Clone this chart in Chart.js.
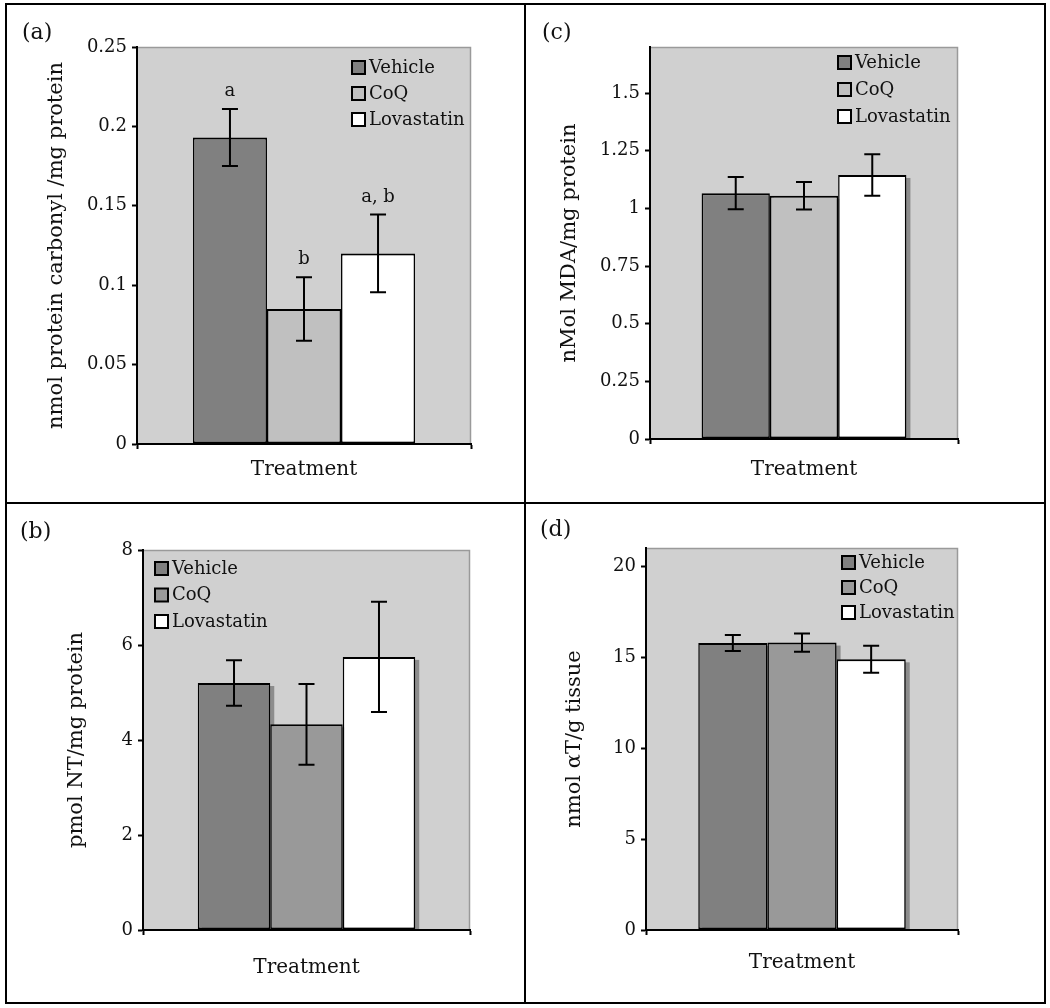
<!DOCTYPE html>
<html>
<head>
<meta charset="utf-8">
<script src="https://cdn.jsdelivr.net/npm/chart.js@4.4.0/dist/chart.umd.min.js"></script>
<style>
  body { margin: 0; background: #fff; width: 1050px; height: 1008px; position: relative; overflow: hidden; }
  canvas { position: absolute; }
  .frame { position: absolute; left: 5px; top: 3px; width: 1041px; height: 1001px; border: 2px solid #000; box-sizing: border-box; z-index: 2; }
  .vline { position: absolute; left: 524px; top: 3px; width: 2px; height: 1001px; background: #000; z-index: 2; }
  .hline { position: absolute; left: 5px; top: 502px; width: 1041px; height: 2px; background: #000; z-index: 2; }
</style>
</head>
<body>
<canvas id="grafico-a" width="519" height="499" style="left:6px;top:4px"></canvas>
<canvas id="grafico-c" width="520" height="499" style="left:525px;top:4px"></canvas>
<canvas id="grafico-b" width="519" height="500" style="left:6px;top:503px"></canvas>
<canvas id="grafico-d" width="520" height="500" style="left:525px;top:503px"></canvas>
<div class="frame"></div>
<div class="vline"></div>
<div class="hline"></div>
<script>
// Groups (same in every panel)
const grupos = ['Vehicle', 'CoQ', 'Lovastatin'];

// (a) protein carbonyl
const mediaA = [0.193, 0.085, 0.12];
const erroA = [0.018, 0.02, 0.0245];
const letrasA = ['a', 'b', 'a, b'];
const ticksA = [0, 0.05, 0.1, 0.15, 0.2, 0.25];

// (b) nitrotyrosine
const mediaB = [5.2, 4.33, 5.75];
const erroB = [0.48, 0.85, 1.16];
const ticksB = [0, 2, 4, 6, 8];

// (c) MDA
const mediaC = [1.066, 1.055, 1.145];
const erroC = [0.07, 0.06, 0.09];
const ticksC = [0, 0.25, 0.5, 0.75, 1, 1.25, 1.5];

// (d) alpha-tocopherol
const mediaD = [15.78, 15.8, 14.88];
const erroD = [0.44, 0.5, 0.74];
const ticksD = [0, 5, 10, 15, 20];

const coresClaro = ['#808080', '#c0c0c0', '#ffffff'];
const coresEscuro = ['#808080', '#999999', '#ffffff'];

const fonte = "'DejaVu Serif', serif";
const corTexto = '#111';

// gray plot background
function pluginFundo() {
    return {
        id: 'fundo',
        beforeDraw(chart) {
            const { ctx, chartArea: a } = chart;
            ctx.save();
            ctx.fillStyle = '#d0d0d0';
            ctx.fillRect(a.left, a.top, a.right - a.left, a.bottom - a.top);
            ctx.strokeStyle = '#9a9a9a';
            ctx.lineWidth = 1.5;
            ctx.beginPath();
            ctx.moveTo(a.left, a.top + 0.5);
            ctx.lineTo(a.right - 0.5, a.top + 0.5);
            ctx.lineTo(a.right - 0.5, a.bottom);
            ctx.stroke();
            ctx.restore();
        }
    };
}

// drop shadow behind the bars (panels b, c, d)
function pluginSombra(ativo) {
    return {
        id: 'sombra',
        beforeDatasetsDraw(chart) {
            if (!ativo) return;
            const { ctx, chartArea: a } = chart;
            ctx.save();
            ctx.beginPath();
            ctx.rect(a.left, a.top, a.right - a.left, a.bottom - a.top - 1);
            ctx.clip();
            ctx.fillStyle = '#8c8c8c';
            chart.data.datasets.forEach((ds, i) => {
                const bar = chart.getDatasetMeta(i).data[0];
                const p = bar.getProps(['x', 'y', 'base', 'width'], true);
                ctx.fillRect(p.x - p.width / 2 + 4, p.y + 3, p.width, p.base - p.y - 3);
            });
            ctx.restore();
        }
    };
}

// error bars and significance letters
function pluginErros(erros, letras) {
    return {
        id: 'erros',
        afterDatasetsDraw(chart) {
            const { ctx } = chart;
            const y = chart.scales.y;
            ctx.save();
            ctx.strokeStyle = '#000';
            ctx.lineWidth = 2;
            chart.data.datasets.forEach((ds, i) => {
                const bar = chart.getDatasetMeta(i).data[0];
                const v = ds.data[0];
                const topo = y.getPixelForValue(v + erros[i]);
                const base = y.getPixelForValue(v - erros[i]);
                ctx.beginPath();
                ctx.moveTo(bar.x, topo);
                ctx.lineTo(bar.x, base);
                ctx.moveTo(bar.x - 8, topo);
                ctx.lineTo(bar.x + 8, topo);
                ctx.moveTo(bar.x - 8, base);
                ctx.lineTo(bar.x + 8, base);
                ctx.stroke();
                if (letras) {
                    ctx.fillStyle = corTexto;
                    ctx.font = '18px ' + fonte;
                    ctx.textAlign = 'center';
                    ctx.textBaseline = 'alphabetic';
                    ctx.fillText(letras[i], bar.x, topo - 13);
                }
            });
            ctx.restore();
        }
    };
}

// legend inside the plot area
function pluginLegenda(lado, dx, dy, passo) {
    return {
        id: 'legendaInterna',
        afterDraw(chart) {
            const { ctx, chartArea: a } = chart;
            const x0 = lado === 'left' ? a.left + dx : a.right - dx;
            ctx.save();
            ctx.font = '18px ' + fonte;
            ctx.textBaseline = 'middle';
            ctx.textAlign = 'left';
            chart.data.datasets.forEach((ds, i) => {
                const yc = a.top + dy + i * passo;
                ctx.fillStyle = ds.backgroundColor;
                ctx.fillRect(x0, yc - 7, 13, 13);
                ctx.strokeStyle = '#000';
                ctx.lineWidth = 2;
                ctx.strokeRect(x0, yc - 7, 13, 13);
                ctx.fillStyle = corTexto;
                ctx.fillText(ds.label, x0 + 17, yc);
            });
            ctx.restore();
        }
    };
}

// panel letter (a), (b)...
function pluginRotulo(texto, x, y) {
    return {
        id: 'rotulo',
        afterDraw(chart) {
            const { ctx } = chart;
            ctx.save();
            ctx.font = '22px ' + fonte;
            ctx.fillStyle = corTexto;
            ctx.textBaseline = 'middle';
            ctx.fillText(texto, x, y);
            ctx.restore();
        }
    };
}

function criarGrafico(cfg) {
    const ctx = document.getElementById(cfg.id).getContext('2d');

    new Chart(ctx, {
        type: 'bar',
        data: {
            labels: [''],
            datasets: grupos.map((g, i) => ({
                label: g,
                data: [cfg.medias[i]],
                backgroundColor: cfg.cores[i],
                borderColor: '#000',
                borderWidth: { top: 2, bottom: 2, left: 1.5, right: 1.5 },
                borderSkipped: false,
                barPercentage: 1,
                categoryPercentage: 0.665,
            })),
        },
        options: {
            responsive: false,
            animation: false,
            devicePixelRatio: 1,
            layout: { padding: { top: cfg.padTopo, right: cfg.padDireita, left: 0, bottom: 0 } },
            plugins: {
                legend: { display: false },
                tooltip: { enabled: false },
            },
            scales: {
                x: {
                    afterFit: s => { s.height = cfg.alturaX; },
                    ticks: { display: false },
                    grid: { drawOnChartArea: false, drawTicks: true, tickLength: 5, tickWidth: 2, tickColor: '#000' },
                    border: { display: true, color: '#000', width: 2 },
                    title: {
                        display: true,
                        text: 'Treatment',
                        color: corTexto,
                        font: { family: fonte, size: 20 },
                        padding: { top: 0, bottom: cfg.padTituloX },
                    },
                },
                y: {
                    min: 0,
                    max: cfg.max,
                    afterFit: s => { s.width = cfg.larguraY; },
                    afterBuildTicks: s => { s.ticks = cfg.ticks.map(v => ({ value: v })); },
                    ticks: {
                        callback: v => String(v),
                        color: corTexto,
                        font: { family: fonte, size: 18 },
                        padding: 5,
                    },
                    grid: { drawOnChartArea: false, drawTicks: true, tickLength: 5, tickWidth: 2, tickColor: '#000' },
                    border: { display: true, color: '#000', width: 2 },
                    title: {
                        display: true,
                        text: cfg.tituloY,
                        color: corTexto,
                        font: { family: fonte, size: 21 },
                        padding: { top: cfg.padTituloY, bottom: 0 },
                    },
                },
            },
        },
        plugins: [
            pluginFundo(),
            pluginSombra(cfg.sombra),
            pluginErros(cfg.erros, cfg.letras),
            pluginLegenda(cfg.legenda[0], cfg.legenda[1], cfg.legenda[2], cfg.legenda[3]),
            pluginRotulo(cfg.rotulo[0], cfg.rotulo[1], cfg.rotulo[2]),
        ],
    });
}

criarGrafico({
    id: 'grafico-a', medias: mediaA, erros: erroA, letras: letrasA, ticks: ticksA, max: 0.25,
    cores: coresClaro, sombra: false, tituloY: 'nmol protein carbonyl /mg protein',
    padTopo: 43, padDireita: 54, larguraY: 131, alturaX: 59, padTituloY: 38, padTituloX: 21,
    legenda: ['right', 119, 21, 26], rotulo: ['(a)', 16, 29],
});

criarGrafico({
    id: 'grafico-c', medias: mediaC, erros: erroC, letras: null, ticks: ticksC, max: 1.7,
    cores: coresClaro, sombra: true, tituloY: 'nMol MDA/mg protein',
    padTopo: 43, padDireita: 87, larguraY: 125, alturaX: 64, padTituloY: 32, padTituloX: 21,
    legenda: ['right', 120, 16, 27], rotulo: ['(c)', 17, 29],
});

criarGrafico({
    id: 'grafico-b', medias: mediaB, erros: erroB, letras: null, ticks: ticksB, max: 8,
    cores: coresEscuro, sombra: true, tituloY: 'pmol NT/mg protein',
    padTopo: 47, padDireita: 55, larguraY: 137, alturaX: 73, padTituloY: 58, padTituloX: 23,
    legenda: ['left', 12, 19, 26.5], rotulo: ['(b)', 14, 29],
});

criarGrafico({
    id: 'grafico-d', medias: mediaD, erros: erroD, letras: null, ticks: ticksD, max: 21,
    cores: coresEscuro, sombra: true, tituloY: 'nmol \u03b1T/g tissue',
    padTopo: 45, padDireita: 87, larguraY: 121, alturaX: 73, padTituloY: 37, padTituloX: 28,
    legenda: ['right', 116, 15, 25], rotulo: ['(d)', 15, 27],
});
</script>
</body>
</html>
